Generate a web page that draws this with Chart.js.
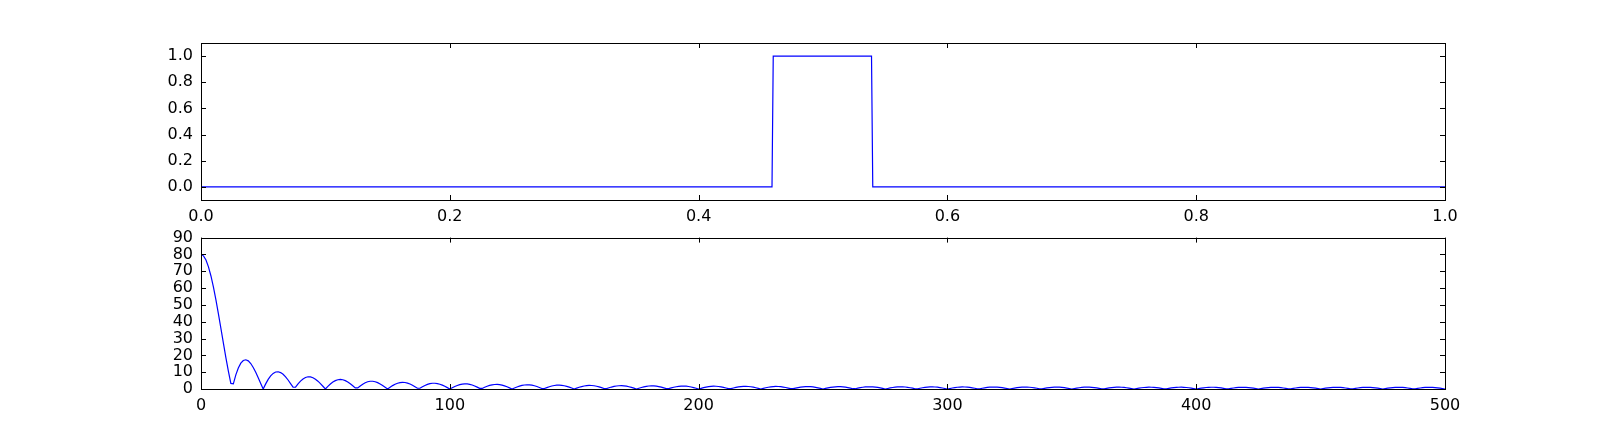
<!DOCTYPE html>
<html>
<head>
<meta charset="utf-8">
<script src="https://cdn.jsdelivr.net/npm/chart.js@4/dist/chart.umd.min.js"></script>
<style>
  body { margin: 0; background: #fff; width: 1605px; height: 433px; position: relative; overflow: hidden; }
  .box { position: absolute; left: 0; }
</style>
</head>
<body>
<div class="box" style="top:0px"><canvas id="pulseChart" width="1605" height="225"></canvas></div>
<div class="box" style="top:220px"><canvas id="specChart" width="1605" height="195"></canvas></div>
<script>
// top plot: the pulse (x, y corner points)
let pulseX = [0, 0.459, 0.46, 0.539, 0.54, 1.0];
let pulseY = [0, 0, 1, 1, 0, 0];

// bottom plot: magnitude, one value per bin 0..500
let specY = [
  80, 79.16, 76.68, 72.63, 67.19, 60.55, 52.95, 44.67, 36.0, 27.25, 18.71, 10.65, 3.32, 3.07, 8.37, 12.47, 15.33, 16.94, 17.37, 16.72, 15.14, 12.80, 9.90, 6.67, 3.30,
  0, 3.04, 5.68, 7.78, 9.27, 10.1, 10.25, 9.77, 8.73, 7.21, 5.35, 3.25, 1.08, 1.05, 3.00, 4.68, 5.98, 6.86, 7.27, 7.22, 6.73, 5.84, 4.64, 3.19, 1.62,
  0, 1.55, 2.95, 4.11, 4.98, 5.50, 5.67, 5.49, 4.97, 4.16, 3.12, 1.92, 0.64, 0.63, 1.83, 2.88, 3.72, 4.30, 4.60, 4.60, 4.32, 3.79, 3.03, 2.10, 1.07,
  0, 1.05, 2.01, 2.82, 3.44, 3.82, 3.96, 3.85, 3.51, 2.95, 2.23, 1.38, 0.46, 0.46, 1.33, 2.10, 2.74, 3.18, 3.41, 3.43, 3.23, 2.85, 2.28, 1.59, 0.81,
  0, 0.76, 1.47, 2.10, 2.58, 2.91, 3.05, 3.01, 2.77, 2.36, 1.80, 1.13, 0.38, 0.34, 1.01, 1.61, 2.11, 2.48, 2.69, 2.73, 2.61, 2.31, 1.88, 1.32, 0.68,
  0, 0.62, 1.21, 1.71, 2.11, 2.38, 2.50, 2.46, 2.26, 1.93, 1.47, 0.92, 0.31, 0.29, 0.84, 1.35, 1.77, 2.07, 2.25, 2.29, 2.18, 1.93, 1.57, 1.10, 0.57,
  0, 0.53, 1.02, 1.45, 1.79, 2.02, 2.12, 2.08, 1.92, 1.63, 1.25, 0.78, 0.27, 0.25, 0.73, 1.16, 1.53, 1.79, 1.94, 1.98, 1.88, 1.67, 1.36, 0.95, 0.49,
  0, 0.46, 0.90, 1.27, 1.57, 1.77, 1.86, 1.83, 1.68, 1.43, 1.09, 0.68, 0.23, 0.22, 0.64, 1.03, 1.35, 1.58, 1.72, 1.75, 1.66, 1.48, 1.20, 0.84, 0.44,
  0, 0.41, 0.80, 1.14, 1.40, 1.58, 1.66, 1.63, 1.50, 1.28, 0.98, 0.61, 0.21, 0.20, 0.58, 0.92, 1.21, 1.42, 1.54, 1.57, 1.49, 1.33, 1.08, 0.76, 0.39,
  0, 0.38, 0.73, 1.03, 1.27, 1.44, 1.51, 1.48, 1.37, 1.16, 0.89, 0.56, 0.19, 0.18, 0.53, 0.85, 1.11, 1.30, 1.41, 1.44, 1.37, 1.22, 0.99, 0.69, 0.36,
  0, 0.35, 0.67, 0.95, 1.17, 1.32, 1.39, 1.36, 1.26, 1.07, 0.82, 0.51, 0.17, 0.17, 0.49, 0.79, 1.03, 1.21, 1.32, 1.34, 1.27, 1.13, 0.92, 0.65, 0.33,
  0, 0.32, 0.63, 0.89, 1.10, 1.24, 1.30, 1.28, 1.18, 1.00, 0.76, 0.48, 0.16, 0.16, 0.46, 0.74, 0.96, 1.13, 1.23, 1.25, 1.19, 1.06, 0.86, 0.60, 0.31,
  0, 0.30, 0.59, 0.84, 1.03, 1.16, 1.22, 1.20, 1.10, 0.94, 0.72, 0.45, 0.15, 0.15, 0.44, 0.70, 0.92, 1.08, 1.17, 1.19, 1.13, 1.00, 0.82, 0.57, 0.30,
  0, 0.29, 0.56, 0.79, 0.98, 1.10, 1.16, 1.14, 1.05, 0.89, 0.68, 0.43, 0.15, 0.14, 0.42, 0.66, 0.87, 1.02, 1.11, 1.13, 1.07, 0.95, 0.77, 0.54, 0.28,
  0, 0.28, 0.54, 0.76, 0.94, 1.06, 1.11, 1.09, 1.00, 0.86, 0.65, 0.41, 0.14, 0.14, 0.40, 0.64, 0.84, 0.99, 1.07, 1.09, 1.04, 0.92, 0.75, 0.53, 0.27,
  0, 0.27, 0.52, 0.73, 0.90, 1.02, 1.07, 1.05, 0.97, 0.82, 0.63, 0.39, 0.13, 0.13, 0.39, 0.62, 0.82, 0.96, 1.04, 1.06, 1.01, 0.89, 0.73, 0.51, 0.26,
  0, 0.26, 0.51, 0.72, 0.89, 1.00, 1.05, 1.03, 0.95, 0.81, 0.62, 0.39, 0.13, 0.13, 0.38, 0.61, 0.79, 0.93, 1.01, 1.03, 0.98, 0.87, 0.71, 0.50, 0.26,
  0, 0.25, 0.49, 0.70, 0.86, 0.97, 1.02, 1.00, 0.92, 0.79, 0.60, 0.38, 0.13, 0.13, 0.38, 0.60, 0.79, 0.92, 1.00, 1.02, 0.97, 0.86, 0.70, 0.49, 0.25,
  0, 0.25, 0.49, 0.69, 0.85, 0.96, 1.01, 0.99, 0.91, 0.78, 0.59, 0.37, 0.13, 0.13, 0.37, 0.59, 0.77, 0.91, 0.98, 1.00, 0.95, 0.84, 0.69, 0.48, 0.25,
  0, 0.25, 0.48, 0.69, 0.84, 0.95, 1.00, 0.98, 0.91, 0.77, 0.59, 0.37, 0.13, 0.13, 0.37, 0.59, 0.77, 0.91, 0.98, 1.00, 0.95, 0.84, 0.69, 0.48, 0.25,
  0
];

// tick labels
let pulseXTicks = [0, 0.2, 0.4, 0.6, 0.8, 1.0];
let pulseYTicks = [0, 0.2, 0.4, 0.6, 0.8, 1.0];
let specXTicks = [0, 100, 200, 300, 400, 500];
let specYTicks = [0, 10, 20, 30, 40, 50, 60, 70, 80, 90];

Chart.defaults.font.family = "'DejaVu Sans', sans-serif";
Chart.defaults.font.size = 16;
Chart.defaults.color = '#000';

// matplotlib-ish frame: black box and inward ticks on all four sides
let framePlugin = {
  id: 'frame',
  afterDraw(chart) {
    let ctx = chart.ctx;
    let a = chart.chartArea;
    let xs = chart.scales.x, ys = chart.scales.y;
    ctx.save();
    ctx.strokeStyle = '#000';
    ctx.lineWidth = 1;
    ctx.beginPath();
    xs.ticks.forEach((t) => {
      let px = Math.round(xs.getPixelForValue(t.value)) + 0.5;
      ctx.moveTo(px, a.bottom); ctx.lineTo(px, a.bottom - 5);
      ctx.moveTo(px, a.top); ctx.lineTo(px, a.top + 5);
    });
    ys.ticks.forEach((t) => {
      let py = Math.round(ys.getPixelForValue(t.value)) + 0.5;
      ctx.moveTo(a.left, py); ctx.lineTo(a.left + 5, py);
      ctx.moveTo(a.right, py); ctx.lineTo(a.right - 5, py);
    });
    ctx.stroke();
    ctx.strokeRect(Math.round(a.left) + 0.5, Math.round(a.top) + 0.5, Math.round(a.right - a.left), Math.round(a.bottom - a.top));
    ctx.restore();
  }
};

let makeChart = (id, points, xMin, xMax, yMin, yMax, xTicks, yTicks, fmt, top, height) => {
  return new Chart(document.getElementById(id), {
    type: 'line',
    data: {
      datasets: [{
        data: points,
        borderColor: '#0000ff',
        borderWidth: 1.2,
        pointRadius: 0,
        fill: false,
        tension: 0
      }]
    },
    options: {
      responsive: false,
      animation: false,
      events: [],
      layout: { padding: { top: top, right: 160, left: 0, bottom: 0 } },
      plugins: { legend: { display: false }, tooltip: { enabled: false } },
      scales: {
        x: {
          type: 'linear', min: xMin, max: xMax,
          grid: { display: false, drawTicks: false },
          border: { display: false },
          afterBuildTicks: (s) => { s.ticks = xTicks.map((v) => ({ value: v })); },
          afterFit: (s) => { s.height = height - 157 - top; },
          ticks: { padding: 7, maxRotation: 0, autoSkip: false, callback: fmt }
        },
        y: {
          min: yMin, max: yMax,
          grid: { display: false, drawTicks: false },
          border: { display: false },
          afterBuildTicks: (s) => { s.ticks = yTicks.map((v) => ({ value: v })); },
          afterFit: (s) => { s.width = 201; },
          ticks: { padding: 8, autoSkip: false, callback: fmt }
        }
      }
    },
    plugins: [framePlugin]
  });
};

let pulsePoints = pulseX.map((x, i) => ({ x: x, y: pulseY[i] }));
let specPoints = specY.map((y, k) => ({ x: k, y: y }));

makeChart('pulseChart', pulsePoints, 0, 1, -0.1, 1.1, pulseXTicks, pulseYTicks, (v) => Number(v).toFixed(1), 43, 225);
makeChart('specChart', specPoints, 0, 500, 0, 90, specXTicks, specYTicks, (v) => String(v), 12, 195);
</script>
</body>
</html>
